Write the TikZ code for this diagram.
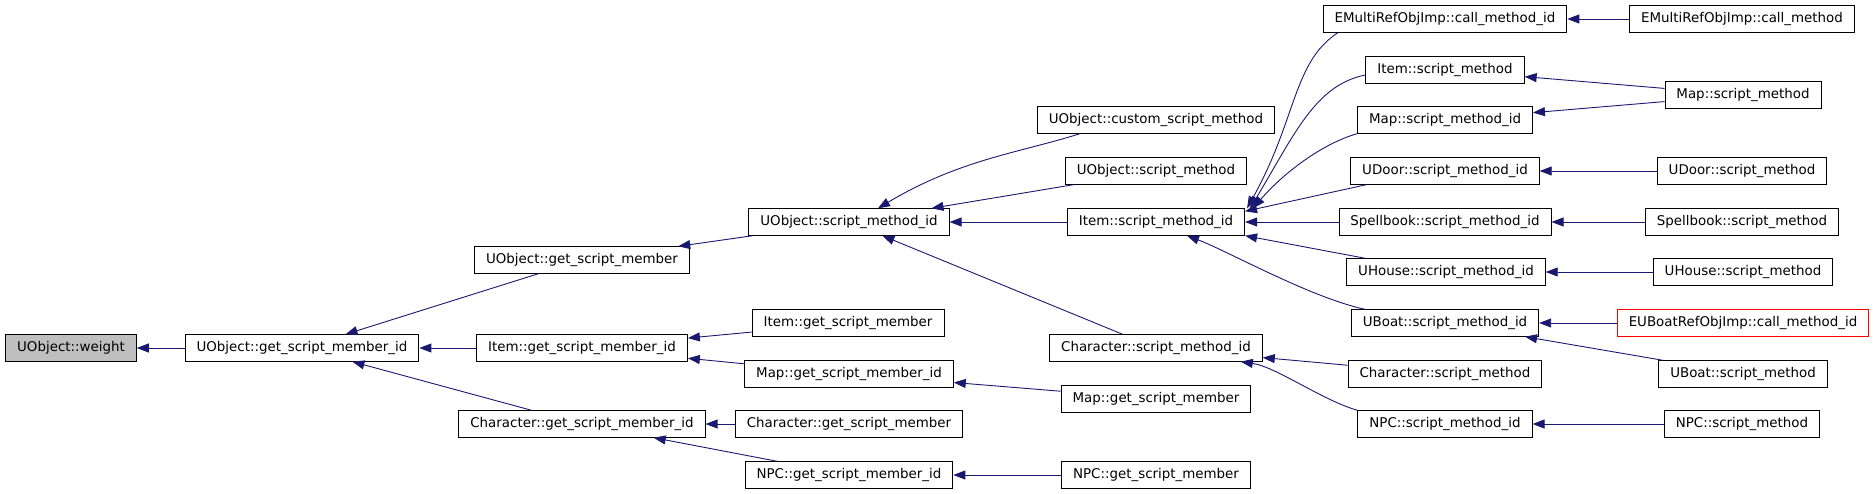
\documentclass[tikz,border=0pt]{standalone}
\usepackage{fontspec}
\newfontfamily\doxfont{DejaVu Sans}
\usetikzlibrary{arrows.meta}
\definecolor{midnight}{RGB}{25,25,112}
\begin{document}
\begin{tikzpicture}[x=1pt,y=1pt,
  fn/.style={draw=black,line width=0.9pt,fill=white,minimum height=26.5pt,inner xsep=11.5pt,
    font=\doxfont\fontsize{13.4}{16}\selectfont},
  call/.style={draw=midnight,line width=0.9pt,-{Triangle[length=12pt,width=9pt]},color=midnight}]
\useasboundingbox (0,0) rectangle (1875,-493);
\node (weight) at (71,-348) [fn,fill=black!25] {UObject::weight};
\node (gsmid) at (302,-348) [fn] {UObject::get\_script\_member\_id};
\node (ugsm) at (582,-260) [fn] {UObject::get\_script\_member};
\node (igsmid) at (582,-348) [fn] {Item::get\_script\_member\_id};
\node (cgsmid) at (582,-424) [fn] {Character::get\_script\_member\_id};
\node (usmid) at (849,-222) [fn] {UObject::script\_method\_id};
\node (igsm) at (848,-323) [fn] {Item::get\_script\_member};
\node (mgsmid) at (849,-374) [fn] {Map::get\_script\_member\_id};
\node (cgsm) at (849,-424) [fn] {Character::get\_script\_member};
\node (ngsmid) at (849,-475) [fn] {NPC::get\_script\_member\_id};
\node (ucsm) at (1156,-120) [fn] {UObject::custom\_script\_method};
\node (usm) at (1156,-171) [fn] {UObject::script\_method};
\node (ismid) at (1156,-222) [fn] {Item::script\_method\_id};
\node (csmid) at (1156,-348) [fn] {Character::script\_method\_id};
\node (mgsm) at (1156,-399) [fn] {Map::get\_script\_member};
\node (ngsm) at (1156,-475) [fn] {NPC::get\_script\_member};
\node (emcid) at (1445,-19) [fn] {EMultiRefObjImp::call\_method\_id};
\node (ism) at (1445,-70) [fn] {Item::script\_method};
\node (msmid) at (1445,-120) [fn] {Map::script\_method\_id};
\node (udsmid) at (1445,-171) [fn] {UDoor::script\_method\_id};
\node (ssmid) at (1445,-222) [fn] {Spellbook::script\_method\_id};
\node (uhsmid) at (1446,-272) [fn] {UHouse::script\_method\_id};
\node (ubsmid) at (1445,-323) [fn] {UBoat::script\_method\_id};
\node (csm) at (1445,-374) [fn] {Character::script\_method};
\node (nsmid) at (1445,-424) [fn] {NPC::script\_method\_id};
\node (emcm) at (1742,-19) [fn] {EMultiRefObjImp::call\_method};
\node (msm) at (1743,-95) [fn] {Map::script\_method};
\node (udsm) at (1742,-171) [fn] {UDoor::script\_method};
\node (ssm) at (1742,-222) [fn] {Spellbook::script\_method};
\node (uhsm) at (1743,-272) [fn] {UHouse::script\_method};
\node (eubcid) at (1743,-323) [fn,draw=red] {EUBoatRefObjImp::call\_method\_id};
\node (ubsm) at (1743,-374) [fn] {UBoat::script\_method};
\node (nsm) at (1742,-424) [fn] {NPC::script\_method};
\draw[call] (gsmid)--(weight);
\draw[call] (ugsm)--(gsmid);
\draw[call] (igsmid)--(gsmid);
\draw[call] (cgsmid)--(gsmid);
\draw[call] (usmid)--(ugsm);
\draw[call] (igsm)--(igsmid);
\draw[call] (mgsmid)--(igsmid);
\draw[call] (cgsm)--(cgsmid);
\draw[call] (ngsmid)--(cgsmid);
\draw[call] ([xshift=43pt]ucsm.south west) .. controls +(-60,-19) and +(82,49) .. ([xshift=29pt]usmid.north);
\draw[call] (usm)--(usmid);
\draw[call] (ismid)--(usmid);
\draw[call] (csmid)--(usmid);
\draw[call] (mgsm)--(mgsmid);
\draw[call] (ngsm)--(ngsmid);
\draw[call] ([xshift=15pt]emcid.south west) .. controls +(-45,-30) and +(50,90) .. ([xshift=2pt]ismid.north east);
\draw[call] ([yshift=-5pt]ism.west) .. controls +(-50,-10) and +(45,75) .. ([xshift=5pt]ismid.north east);
\draw[call] (msmid.south west) .. controls +(-35,-10) and +(30,35) .. ([xshift=8pt]ismid.north east);
\draw[call] ([xshift=16pt]udsmid.south west)--([yshift=-3pt]ismid.north east);
\draw[call] (ssmid)--(ismid);
\draw[call] ([xshift=19pt]uhsmid.north west)--(ismid.south east);
\draw[call] ([xshift=14pt]ubsmid.north west) .. controls +(-55,12) and +(40,-15) .. ([xshift=31pt]ismid.south);
\draw[call] (csm)--(csmid);
\draw[call] (nsmid.north west) .. controls +(-35,10) and +(35,-5) .. ([xshift=-22pt]csmid.south east);
\draw[call] (emcm)--(emcid);
\draw[call] (msm)--(ism);
\draw[call] (msm)--(msmid);
\draw[call] (udsm)--(udsmid);
\draw[call] (ssm)--(ssmid);
\draw[call] (uhsm)--(uhsmid);
\draw[call] (eubcid)--(ubsmid);
\draw[call] (ubsm)--(ubsmid);
\draw[call] (nsm)--(nsmid);
\end{tikzpicture}
\end{document}
